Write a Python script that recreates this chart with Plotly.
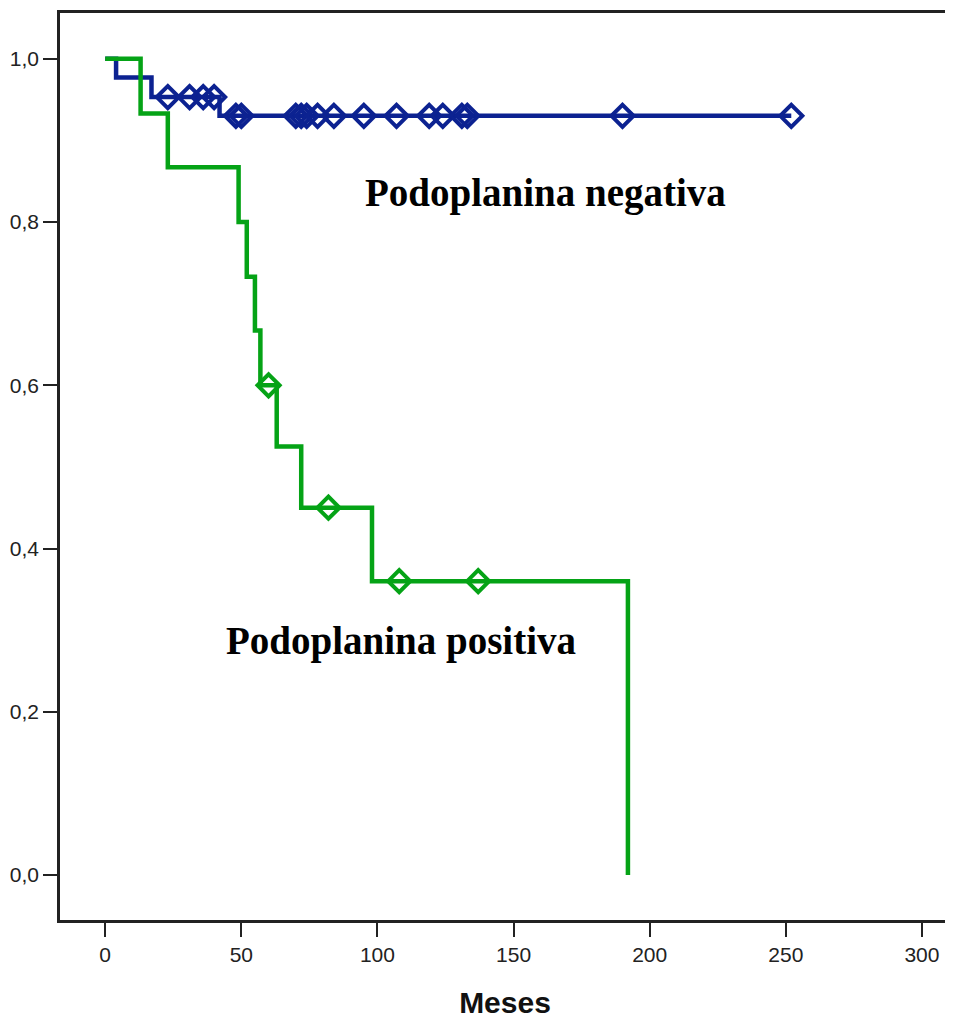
import plotly.graph_objects as go

# Podoplanina negativa (blue)
neg_times = [0, 4, 17, 42, 252]
neg_surv = [1.0, 0.977, 0.953, 0.930, 0.930]
neg_cens_times = [23, 31, 36, 40, 48, 50, 70, 72, 74, 78, 84, 95, 107, 119, 124, 131, 133, 190, 252]
neg_cens_surv = [0.953, 0.953, 0.953, 0.953] + [0.930] * 15

# Podoplanina positiva (green)
pos_times = [0, 13, 23, 49, 52, 55, 57, 63, 72, 98, 192]
pos_surv = [1.0, 0.933, 0.867, 0.800, 0.733, 0.667, 0.600, 0.525, 0.450, 0.360, 0.0]
pos_cens_times = [60, 82, 108, 137]
pos_cens_surv = [0.600, 0.450, 0.360, 0.360]

x_ticks = [0, 50, 100, 150, 200, 250, 300]
y_ticks = [0.0, 0.2, 0.4, 0.6, 0.8, 1.0]
y_tick_labels = ["0,0", "0,2", "0,4", "0,6", "0,8", "1,0"]

BLUE = "#0c2291"
GREEN = "#05a316"

fig = go.Figure()
fig.add_trace(go.Scatter(x=neg_times, y=neg_surv, mode="lines", line_shape="hv",
                         line=dict(color=BLUE, width=4.5), showlegend=False, hoverinfo="skip"))
fig.add_trace(go.Scatter(x=neg_cens_times, y=neg_cens_surv, mode="markers",
                         marker=dict(symbol="diamond-open", size=17, color=BLUE, line=dict(width=4, color=BLUE)),
                         showlegend=False))
fig.add_trace(go.Scatter(x=pos_times, y=pos_surv, mode="lines", line_shape="hv",
                         line=dict(color=GREEN, width=4.5), showlegend=False, hoverinfo="skip"))
fig.add_trace(go.Scatter(x=pos_cens_times, y=pos_cens_surv, mode="markers",
                         marker=dict(symbol="diamond-open", size=17, color=GREEN, line=dict(width=4, color=GREEN)),
                         showlegend=False))

fig.add_annotation(x=161.6, y=0.836, text="<b>Podoplanina negativa</b>", showarrow=False,
                   font=dict(family="Liberation Serif, Times New Roman, serif", size=39, color="#000000"))
fig.add_annotation(x=108.7, y=0.287, text="<b>Podoplanina positiva</b>", showarrow=False,
                   font=dict(family="Liberation Serif, Times New Roman, serif", size=39, color="#000000"))

fig.update_layout(
    width=947, height=1015,
    margin=dict(l=52, r=5, t=2, b=103),
    plot_bgcolor="white", paper_bgcolor="white",
    font=dict(family="Liberation Sans, Arial, sans-serif", size=21, color="#222222"),
)
fig.update_xaxes(range=[-16.6, 310.3], tickvals=x_ticks, ticks="outside", ticklen=14, tickwidth=2,
                 tickcolor="#222222", showline=True, linewidth=2.5, linecolor="#222222", mirror=True,
                 showgrid=False, zeroline=False,
                 title=dict(text="<b>Meses</b>", font=dict(size=30, color="#111111"), standoff=28))
fig.update_yaxes(range=[-0.055, 1.056], tickvals=y_ticks, ticktext=y_tick_labels, ticks="outside",
                 ticklen=14, tickwidth=2, tickcolor="#222222", showline=True, linewidth=2.5,
                 linecolor="#222222", mirror=True, showgrid=False, zeroline=False)

fig.write_html("out.html")
